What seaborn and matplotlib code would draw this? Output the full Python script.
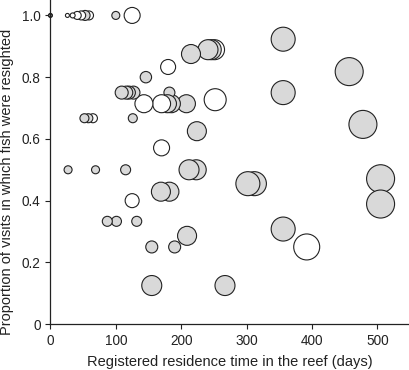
import numpy as np
import pandas as pd

import matplotlib
matplotlib.use('Agg')

from matplotlib import pyplot as plt
import seaborn as sns

# residence time (days), proportion resighted, bubble radius (px), fill
days = [0, 0, 26, 34, 41, 47, 53, 59, 100, 125,
        146, 180, 215, 241, 246, 251, 356, 457,
        109, 116, 120, 127, 182, 356,
        143, 170, 179, 185, 208, 252,
        52, 58, 65, 126, 224, 478, 170,
        27, 69, 115, 212, 223, 505,
        302, 312, 169, 182, 125, 505,
        87, 101, 132, 209, 356, 155, 190, 392, 155, 267]
prop = [1.0, 1.0, 1.0, 1.0, 1.0, 1.0, 1.0, 1.0, 1.0, 1.0,
        0.8, 0.833, 0.875, 0.889, 0.889, 0.889, 0.923, 0.818,
        0.75, 0.75, 0.75, 0.75, 0.75, 0.75,
        0.714, 0.714, 0.714, 0.714, 0.714, 0.727,
        0.667, 0.667, 0.667, 0.667, 0.625, 0.647, 0.571,
        0.5, 0.5, 0.5, 0.5, 0.5, 0.471,
        0.455, 0.455, 0.429, 0.429, 0.4, 0.389,
        0.333, 0.333, 0.333, 0.286, 0.308, 0.25, 0.25, 0.25, 0.125, 0.125]
radius = [2, 1.5, 2, 2.5, 4, 4.5, 5, 4.5, 4, 8,
          5.7, 7.5, 9.5, 10, 10, 10, 12, 14,
          6.5, 6.5, 6.5, 6.5, 5.5, 12,
          9, 9, 9, 9, 9, 11,
          4.5, 4.5, 4.5, 4.5, 9.5, 14, 8,
          4, 4, 5, 10, 10, 14,
          12, 12, 9.5, 9.5, 7, 14,
          5, 5, 5, 9.5, 12, 6, 6, 13, 10, 10]
fill = ['grey', 'white', 'white', 'white', 'white', 'white', 'grey', 'white', 'grey', 'white',
        'grey', 'white', 'grey', 'grey', 'grey', 'white', 'grey', 'grey',
        'grey', 'grey', 'grey', 'grey', 'grey', 'grey',
        'white', 'white', 'grey', 'grey', 'grey', 'white',
        'grey', 'grey', 'white', 'grey', 'grey', 'grey', 'white',
        'grey', 'grey', 'grey', 'grey', 'grey', 'grey',
        'grey', 'grey', 'grey', 'grey', 'white', 'grey',
        'grey', 'grey', 'grey', 'grey', 'grey', 'grey', 'grey', 'white', 'grey', 'grey']

df = pd.DataFrame({'days': days, 'prop': prop, 'radius': radius, 'fill': fill})
# leftmost bubbles end up on top
df = df.sort_values('days', ascending=False, kind='stable')

dpi = 100
size_map = {r: (2 * r * 72.0 / dpi) ** 2 for r in df['radius'].unique()}

sns.set_style('ticks')
plt.rcParams['font.family'] = ['Liberation Sans', 'DejaVu Sans']

fig = plt.figure(figsize=(4.1, 3.7), dpi=dpi)
ax = fig.add_axes([0.123, 0.124, 0.877, 0.876])

sns.scatterplot(data=df, x='days', y='prop', hue='fill', size='radius',
                palette={'grey': '#d9d9d9', 'white': 'white'}, sizes=size_map,
                edgecolor='#222222', linewidth=0.8, alpha=1, legend=False,
                clip_on=False, ax=ax)

ax.set_xlim(0, 550)
ax.set_ylim(0, 1.05)
ax.set_xticks([0, 100, 200, 300, 400, 500])
ax.set_yticks([0, 0.2, 0.4, 0.6, 0.8, 1.0])
ax.set_yticklabels(['0', '0.2', '0.4', '0.6', '0.8', '1.0'])
ax.tick_params(labelsize=9.8, length=3.5, width=0.8, color='#222222',
               labelcolor='#222222')
ax.set_xlabel('Registered residence time in the reef (days)', fontsize=10.5,
              color='#222222')
ax.set_ylabel('Proportion of visits in which fish were resighted', fontsize=10.5,
              color='#222222')
ax.xaxis.set_label_coords(0.5, -0.096)
ax.yaxis.set_label_coords(-0.1, 0.44)
for s in ['left', 'bottom']:
    ax.spines[s].set_linewidth(0.9)
    ax.spines[s].set_color('#222222')
sns.despine(ax=ax)

plt.savefig('out.png', dpi=dpi)
